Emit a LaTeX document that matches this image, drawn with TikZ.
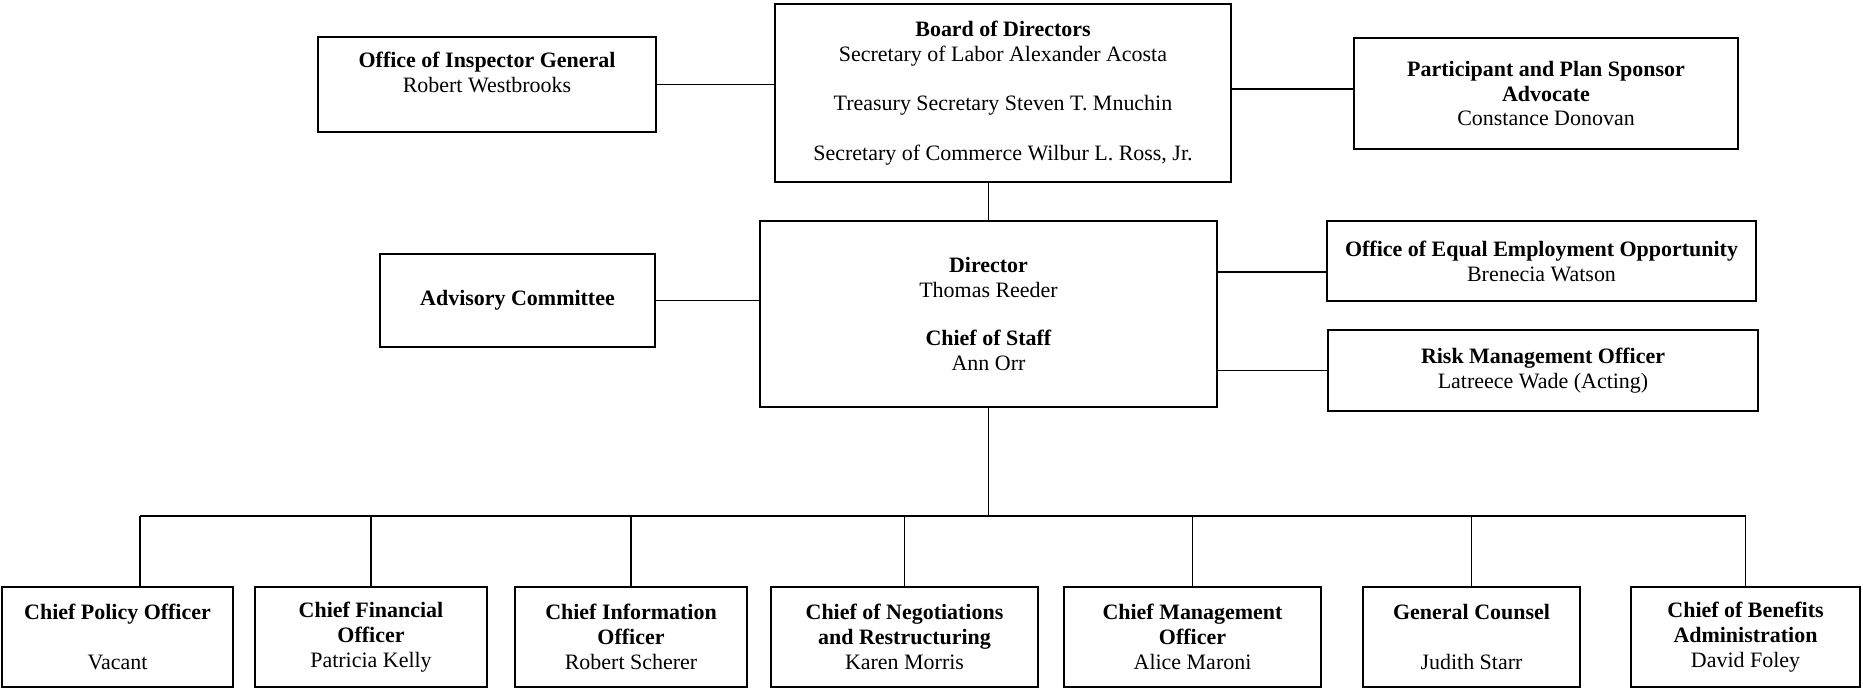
\documentclass[tikz,border=0pt]{standalone}
\usepackage{fontspec}
\setmainfont{Liberation Serif}

\begin{document}
\begin{tikzpicture}[
  orgbox/.style={
    draw=black, line width=1.2pt, align=center, inner sep=2pt,
    font=\fontsize{12.5}{14.2}\selectfont, text=black
  },
  lowbox/.style={orgbox, minimum height=2.0cm},
  link/.style={line width=1pt, black},
]

% Page frame
\useasboundingbox (0,0) rectangle (37.26,-13.8);

% ===== Top row =====

% Board
\node[orgbox, minimum width=9.12cm, minimum height=3.56cm] (board) at (20.06,-1.86)
  {\textbf{Board of Directors}\\
   Secretary of Labor Alexander Acosta\\[14pt]
   Treasury Secretary Steven T. Mnuchin\\[14pt]
   Secretary of Commerce Wilbur L. Ross, Jr.};

% Inspector General
\node[orgbox, minimum width=6.76cm, minimum height=1.9cm] (oig) at (9.74,-1.69)
  {\textbf{Office of Inspector General}\\
   Robert Westbrooks\\~};

% Advocate
\node[orgbox, minimum width=7.68cm, minimum height=2.22cm] (ppsa) at (30.92,-1.87)
  {\textbf{Participant and Plan Sponsor}\\
   \textbf{Advocate}\\
   Constance Donovan};

% ===== Middle row =====

% Director
\node[orgbox, minimum width=9.14cm, minimum height=3.72cm] (dir) at (19.77,-6.28)
  {\textbf{Director}\\
   Thomas Reeder\\[13pt]
   \textbf{Chief of Staff}\\
   Ann Orr};

\node[orgbox, minimum width=5.5cm, minimum height=1.86cm] (adv) at (10.35,-6.01)
  {\textbf{Advisory Committee}};

\node[orgbox, minimum width=8.58cm, minimum height=1.6cm] (eeo) at (30.83,-5.22)
  {\textbf{Office of Equal Employment Opportunity}\\
   Brenecia Watson};

\node[orgbox, minimum width=8.6cm, minimum height=1.62cm] (risk) at (30.86,-7.41)
  {\textbf{Risk Management Officer}\\
   Latreece Wade (Acting)};

% ===== Bottom row =====
\node[lowbox, minimum width=4.62cm] (cpo) at (2.35,-12.74)
  {\textbf{Chief Policy Officer}\\[14pt]
   Vacant};
\node[lowbox, minimum width=4.64cm] (cfo) at (7.42,-12.74)
  {\textbf{Chief Financial}\\
   \textbf{Officer}\\
   Patricia Kelly};
\node[lowbox, minimum width=4.64cm] (cio) at (12.62,-12.74)
  {\textbf{Chief Information}\\
   \textbf{Officer}\\
   Robert Scherer};
\node[lowbox, minimum width=5.34cm] (cnr) at (18.09,-12.74)
  {\textbf{Chief of Negotiations}\\
   \textbf{and Restructuring}\\
   Karen Morris};
\node[lowbox, minimum width=5.14cm] (cmo) at (23.85,-12.74)
  {\textbf{Chief Management}\\
   \textbf{Officer}\\
   Alice Maroni};
\node[lowbox, minimum width=4.34cm] (gc) at (29.43,-12.74)
  {\textbf{General Counsel}\\[14pt]
   Judith Starr};
\node[lowbox, minimum width=4.58cm] (cba) at (34.91,-12.74)
  {\textbf{Chief of Benefits}\\
   \textbf{Administration}\\
   David Foley};

% ===== Connectors =====
\draw[link] (oig.east) -- (oig.east -| board.west);
\coordinate (ppsain) at ([yshift=0.9mm]ppsa.west);
\draw[link] (ppsain) -- (ppsain -| board.east);
\draw[link] (board.south -| dir.north) -- (dir.north);

\draw[link] (adv.east) -- (adv.east -| dir.west);
\coordinate (eeoin) at ([yshift=-2.2mm]eeo.west);
\draw[link] (eeoin) -- (eeoin -| dir.east);
\draw[link] (risk.west) -- (risk.west -| dir.east);

% bus to the bottom row
\coordinate (busL) at (2.8,-10.32);
\coordinate (busR) at (cba.north |- busL);
\draw[link] (dir.south) -- (dir.south |- busL);
\draw[link] (busL) -- (busR);
\draw[link] (busL) -- (busL |- cpo.north);
\foreach \n in {cfo,cio,cnr,cmo,gc,cba}
  \draw[link] (\n.north) -- (\n.north |- busL);

\end{tikzpicture}
\end{document}
